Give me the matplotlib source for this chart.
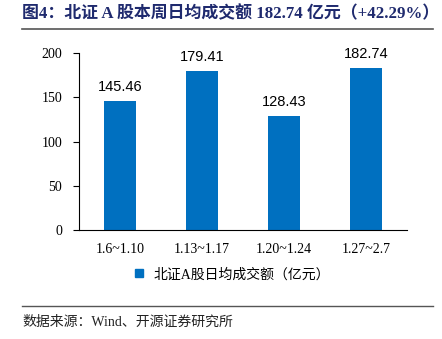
import matplotlib.pyplot as plt
from matplotlib.lines import Line2D

weeks = ['1.6~1.10', '1.13~1.17', '1.20~1.24', '1.27~2.7']
turnover = [145.46, 179.41, 128.43, 182.74]
yticks = [0, 50, 100, 150, 200]

title = '图4：北证 A 股本周日均成交额 182.74 亿元（+42.29%）'
series_name = '北证A股日均成交额（亿元）'
source = '数据来源：Wind、开源证券研究所'

serif_cjk = ['Liberation Serif', 'Noto Sans CJK SC']
blue = '#0070C0'

fig = plt.figure(figsize=(4.42, 3.39), dpi=100)
ax = fig.add_axes([0.1787, 0.3215, 0.7421, 0.5221])

bars = ax.bar(range(len(weeks)), turnover, width=0.4, color=blue)
for b, v in zip(bars, turnover):
    ax.text(b.get_x() + b.get_width() / 2, v + 8, f'{v:.2f}',
            ha='center', va='bottom', fontsize=10.5, family='Liberation Sans')

ax.set_xlim(-0.5, len(weeks) - 0.5)
ax.set_ylim(0, 200)
ax.set_yticks(yticks)
ax.set_xticks(range(len(weeks)))
ax.set_xticklabels(weeks)
for lab in ax.get_xticklabels() + ax.get_yticklabels():
    lab.set_family('Liberation Serif')
    lab.set_fontsize(10)
ax.tick_params(axis='x', length=0, pad=9)
ax.tick_params(axis='y', direction='out', length=4, pad=8)
ax.spines['top'].set_visible(False)
ax.spines['right'].set_visible(False)
for s in ('left', 'bottom'):
    ax.spines[s].set_color('black')
    ax.spines[s].set_linewidth(0.8)

handle = Line2D([], [], marker='s', color=blue, linestyle='none', markersize=6)
leg = fig.legend([handle], [series_name], loc='center', bbox_to_anchor=(0.515, 0.19),
                 frameon=False, handletextpad=0.1, prop={'family': serif_cjk, 'size': 10})

# header and footer rules
fig.add_artist(Line2D([0.05, 0.98], [1 - 29 / 339] * 2, color='#555555', lw=1.2))
fig.add_artist(Line2D([0.05, 0.98], [1 - 306 / 339] * 2, color='#555555', lw=1.0))

fig.text(0.05, 1 - 14 / 339, title, ha='left', va='center', color='#1F2A6E',
         fontsize=12.2, fontweight='bold', family=serif_cjk)
fig.text(0.05, 1 - 322 / 339, source, ha='left', va='center', color='#222222',
         fontsize=10, family=serif_cjk)

fig.savefig('out.png', dpi=100)
